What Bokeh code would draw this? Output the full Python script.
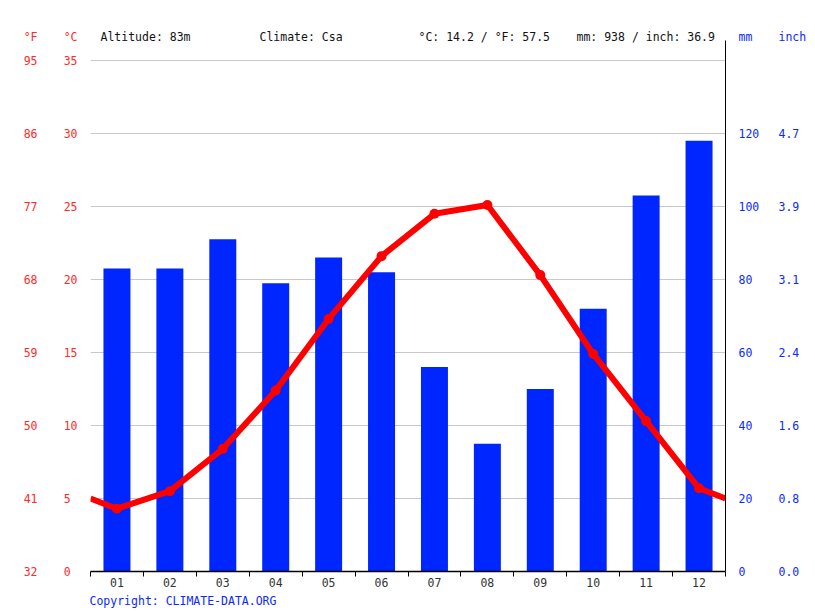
from bokeh.plotting import figure
from bokeh.models import Range1d, LinearAxis, FixedTicker, Label
from bokeh.embed import file_html
from bokeh.resources import INLINE

# ---- data ----
months = ["01", "02", "03", "04", "05", "06", "07", "08", "09", "10", "11", "12"]
month_pos = [1, 2, 3, 4, 5, 6, 7, 8, 9, 10, 11, 12]
precip_mm = [83, 83, 91, 79, 86, 82, 56, 35, 50, 72, 103, 118]
temp_c = [4.3, 5.5, 8.4, 12.4, 17.3, 21.6, 24.5, 25.1, 20.3, 14.9, 10.3, 5.7]
temp_ticks_c = [0, 5, 10, 15, 20, 25, 30, 35]
temp_labels_f = ["32", "41", "50", "59", "68", "77", "86", "95"]
mm_ticks = [0, 20, 40, 60, 80, 100, 120]
inch_labels = ["0.0", "0.8", "1.6", "2.4", "3.1", "3.9", "4.7"]
header_altitude = "Altitude: 83m"
header_climate = "Climate: Csa"
header_temp = "°C: 14.2 / °F: 57.5"
header_precip = "mm: 938 / inch: 36.9"
copyright_text = "Copyright: CLIMATE-DATA.ORG"

FONT = "DejaVu Sans Mono"
FS = "11.5px"
RED = "#ff2a2a"
BLUE = "#0a2aff"
BAR = "#0026ff"

# scale: 14.6 px per °C, 0 °C at the frame bottom
frame_h = 543
c_top = frame_h / 14.6          # top of the (extended) frame, in °C
c_axis_top = 531 / 14.6         # where the right axis line ends
c_head = 535 / 14.6             # level of the unit headers

p = figure(frame_width=635, frame_height=frame_h, width=815, height=611,
           min_border_left=90, min_border_right=90, min_border_top=28, min_border_bottom=40,
           x_range=Range1d(0.5, 12.5), y_range=Range1d(0, c_top),
           output_backend="svg", toolbar_location=None, x_axis_location=None)
p.extra_y_ranges = {"mm": Range1d(0, c_top * 4)}
p.outline_line_color = None

p.xgrid.visible = False
p.ygrid.ticker = FixedTicker(ticks=temp_ticks_c[1:])
p.ygrid.grid_line_color = "#c8c8c8"
p.ygrid.grid_line_width = 1


def style_axis(ax, color, standoff):
    ax.major_tick_line_color = None
    ax.minor_tick_line_color = None
    ax.major_tick_out = 0
    ax.major_tick_in = 0
    ax.minor_tick_out = 0
    ax.minor_tick_in = 0
    ax.major_label_standoff = standoff
    ax.major_label_text_color = color
    ax.major_label_text_font = FONT
    ax.major_label_text_font_size = FS


# left °C axis (default)
ya = p.yaxis[0]
ya.ticker = FixedTicker(ticks=temp_ticks_c + [c_head])
c_over = {t: (str(t) if t >= 10 else str(t) + "\u2007") for t in temp_ticks_c}
c_over[c_head] = "°C"
ya.major_label_overrides = c_over
ya.axis_line_color = None
style_axis(ya, RED, 13)

# left °F axis
f_over = {t: f for t, f in zip(temp_ticks_c, temp_labels_f)}
f_over[c_head] = "°F"
fa = LinearAxis(ticker=FixedTicker(ticks=temp_ticks_c + [c_head]), major_label_overrides=f_over)
fa.axis_line_color = None
style_axis(fa, RED, 23)
p.add_layout(fa, "left")

# right axis line only (ends at the top of the chart area)
la = LinearAxis(y_range_name="mm", ticker=FixedTicker(ticks=[]), bounds=(0, c_axis_top * 4))
la.axis_line_color = "black"
la.axis_line_width = 1
style_axis(la, BLUE, 0)
p.add_layout(la, "right")

# right mm axis
mm_over = {t: str(t) for t in mm_ticks}
mm_over[c_head * 4] = "mm"
ma = LinearAxis(y_range_name="mm", ticker=FixedTicker(ticks=mm_ticks + [c_head * 4]),
                major_label_overrides=mm_over)
ma.axis_line_color = None
style_axis(ma, BLUE, 13)
p.add_layout(ma, "right")

# right inch axis
in_over = {t: s for t, s in zip(mm_ticks, inch_labels)}
in_over[c_head * 4] = "inch"
ia = LinearAxis(y_range_name="mm", ticker=FixedTicker(ticks=mm_ticks + [c_head * 4]),
                major_label_overrides=in_over)
ia.axis_line_color = None
style_axis(ia, BLUE, 16)
p.add_layout(ia, "right")

# bottom axis with the copyright line as its label (padded so it starts at the left edge)
xa = LinearAxis(ticker=FixedTicker(ticks=month_pos, minor_ticks=[m - 0.5 for m in month_pos] + [12.5]),
                major_label_overrides={m: s for m, s in zip(month_pos, months)})
xa.axis_line_color = "black"
xa.axis_line_width = 1.5
style_axis(xa, "#333333", 1)
xa.minor_tick_line_color = "black"
xa.minor_tick_line_width = 1
xa.minor_tick_out = 5
xa.axis_label = copyright_text + "\u00a0" * 65
xa.axis_label_align = "center"
xa.axis_label_standoff = 4
xa.axis_label_text_color = BLUE
xa.axis_label_text_font = FONT
xa.axis_label_text_font_size = FS
xa.axis_label_text_font_style = "normal"
p.add_layout(xa, "below")

# bars
p.vbar(x=month_pos, top=precip_mm, width=0.51, y_range_name="mm",
       fill_color=BAR, line_color=None)

# temperature line, extended to the chart edges (mean of Dec and Jan)
edge = (temp_c[0] + temp_c[-1]) / 2
p.line(x=[0.5] + month_pos + [12.5], y=[edge] + temp_c + [edge],
       line_color="#ff0000", line_width=6, line_join="round")
p.scatter(x=month_pos, y=temp_c, size=10, fill_color="#ff0000", line_color=None)

# header texts (inside the frame, above the chart area)
def add_label(x, y, text, color):
    p.add_layout(Label(x=x, y=y, x_units="screen", y_units="screen", text=text,
                       text_font=FONT, text_font_size=FS, text_color=color,
                       text_baseline="middle", text_align="left"))

hy = 535
add_label(10, hy, header_altitude, "#111111")
add_label(169, hy, header_climate, "#111111")
add_label(328, hy, header_temp, "#111111")
add_label(486, hy, header_precip, "#111111")

open("out.html", "w").write(file_html(p, INLINE))
